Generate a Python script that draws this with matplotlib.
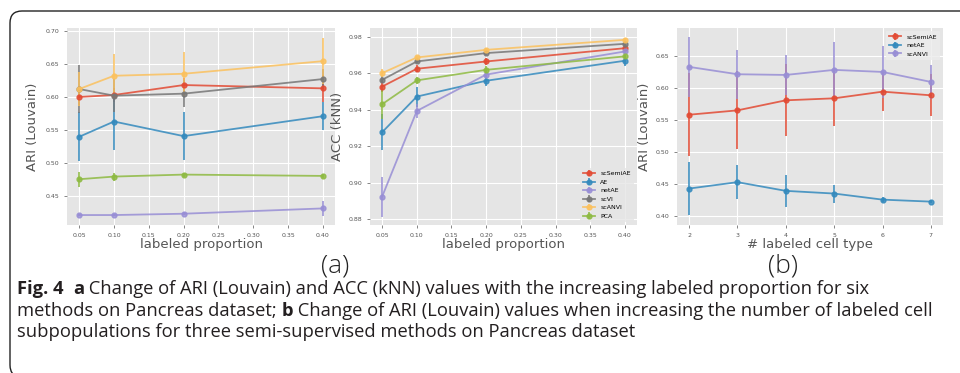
import matplotlib
matplotlib.use("Agg")
import matplotlib.pyplot as plt
from matplotlib.patches import FancyBboxPatch
import numpy as np

plt.style.use("ggplot")

# ---------------- data ----------------
prop = [0.05, 0.10, 0.20, 0.40]
methods_a = ["scSemiAE", "AE", "netAE", "scVI", "scANVI", "PCA"]
colors_a = ["#E24A33", "#348ABD", "#988ED5", "#777777", "#FBC15E", "#8EBA42"]

ari_scSemiAE = [0.600, 0.603, 0.618, 0.613]
ari_AE = [0.540, 0.563, 0.541, 0.571]
ari_netAE = [0.422, 0.422, 0.424, 0.432]
ari_scVI = [0.612, 0.602, 0.605, 0.627]
ari_scANVI = [0.612, 0.632, 0.635, 0.654]
ari_PCA = [0.476, 0.480, 0.483, 0.481]

ari_err_scSemiAE = [0.012, 0.010, 0.010, 0.020]
ari_err_AE = [0.037, 0.043, 0.036, 0.021]
ari_err_netAE = [0.002, 0.002, 0.002, 0.011]
ari_err_scVI = [0.036, 0.025, 0.020, 0.015]
ari_err_scANVI = [0.025, 0.033, 0.033, 0.035]
ari_err_PCA = [0.011, 0.006, 0.003, 0.003]

acc_scSemiAE = [0.9528, 0.9626, 0.9666, 0.9739]
acc_AE = [0.9277, 0.9473, 0.9560, 0.9670]
acc_netAE = [0.8923, 0.9394, 0.9594, 0.9721]
acc_scVI = [0.9565, 0.9666, 0.9712, 0.9763]
acc_scANVI = [0.9602, 0.9688, 0.9730, 0.9785]
acc_PCA = [0.9431, 0.9562, 0.9620, 0.9694]

acc_err_scSemiAE = [0.003, 0.002, 0.002, 0.001]
acc_err_AE = [0.010, 0.0055, 0.003, 0.003]
acc_err_netAE = [0.011, 0.004, 0.002, 0.001]
acc_err_scVI = [0.002, 0.001, 0.001, 0.001]
acc_err_scANVI = [0.002, 0.001, 0.001, 0.001]
acc_err_PCA = [0.008, 0.002, 0.002, 0.001]

ncell = [2, 3, 4, 5, 6, 7]
methods_b = ["scSemiAE", "netAE", "scANVI"]
colors_b = ["#E24A33", "#348ABD", "#988ED5"]
b_scSemiAE = [0.5576, 0.5644, 0.5801, 0.5832, 0.5936, 0.5879]
b_netAE = [0.4423, 0.4523, 0.4387, 0.4345, 0.4250, 0.4219]
b_scANVI = [0.6323, 0.6208, 0.6197, 0.6276, 0.6244, 0.6088]
b_err_scSemiAE = [0.065, 0.061, 0.056, 0.043, 0.030, 0.033]
b_err_netAE = [0.042, 0.027, 0.025, 0.014, 0.004, 0.002]
b_err_scANVI = [0.047, 0.038, 0.031, 0.043, 0.040, 0.027]

ticks_a = [0.05, 0.10, 0.15, 0.20, 0.25, 0.30, 0.35, 0.40]
ticks_a1_y = [0.45, 0.50, 0.55, 0.60, 0.65, 0.70]
ticks_a2_y = [0.88, 0.90, 0.92, 0.94, 0.96, 0.98]
ticks_b_y = [0.40, 0.45, 0.50, 0.55, 0.60, 0.65]

# ---------------- figure ----------------
W, H = 960, 373
fig = plt.figure(figsize=(W / 100, H / 100), dpi=100, facecolor="white")

def ax_at(x0, x1, y0, y1):
    return fig.add_axes([x0 / W, 1 - y1 / H, (x1 - x0) / W, (y1 - y0) / H])

ax1 = ax_at(67, 335, 28, 225)
ax2 = ax_at(370, 637, 28, 225)
ax3 = ax_at(677, 943, 28, 225)

tick_fs = 4.5
lab_fs = 9.5
lab_col = "#555555"

def style(ax):
    ax.tick_params(axis="both", labelsize=tick_fs, colors="#555555", length=2, width=0.5)
    for s in ax.spines.values():
        s.set_visible(False)
    ax.grid(True, color="white", linewidth=0.8)

ekw = dict(marker="o", markersize=3.5, linewidth=1.3, elinewidth=1.3, capsize=0, alpha=0.85)

a1 = [ari_scSemiAE, ari_AE, ari_netAE, ari_scVI, ari_scANVI, ari_PCA]
a1e = [ari_err_scSemiAE, ari_err_AE, ari_err_netAE, ari_err_scVI, ari_err_scANVI, ari_err_PCA]
for name, c, v, e in zip(methods_a, colors_a, a1, a1e):
    ax1.errorbar(prop, v, yerr=e, color=c, label=name, **ekw)
style(ax1)
ax1.set_xticks(ticks_a)
ax1.set_xticklabels(["%.2f" % t for t in ticks_a])
ax1.set_yticks(ticks_a1_y)
ax1.set_yticklabels(["%.2f" % t for t in ticks_a1_y])
ax1.set_xlim(0.0325, 0.4175)
ax1.set_ylim(0.407, 0.704)
ax1.set_xlabel("labeled proportion", fontsize=lab_fs, color=lab_col, labelpad=0)
ax1.set_ylabel("ARI (Louvain)", fontsize=lab_fs, color=lab_col, labelpad=5)

a2 = [acc_scSemiAE, acc_AE, acc_netAE, acc_scVI, acc_scANVI, acc_PCA]
a2e = [acc_err_scSemiAE, acc_err_AE, acc_err_netAE, acc_err_scVI, acc_err_scANVI, acc_err_PCA]
for name, c, v, e in zip(methods_a, colors_a, a2, a2e):
    ax2.errorbar(prop, v, yerr=e, color=c, label=name, **ekw)
style(ax2)
ax2.set_xticks(ticks_a)
ax2.set_xticklabels(["%.2f" % t for t in ticks_a])
ax2.set_yticks(ticks_a2_y)
ax2.set_yticklabels(["%.2f" % t for t in ticks_a2_y])
ax2.set_xlim(0.0325, 0.4175)
ax2.set_ylim(0.8767, 0.985)
ax2.set_xlabel("labeled proportion", fontsize=lab_fs, color=lab_col, labelpad=0)
ax2.set_ylabel("ACC (kNN)", fontsize=lab_fs, color=lab_col, labelpad=3)
ax2.legend(loc="lower right", fontsize=4.5, handlelength=2, labelspacing=0.5,
           frameon=True, facecolor="#E5E5E5", edgecolor="none", borderpad=0.5)

b = [b_scSemiAE, b_netAE, b_scANVI]
be = [b_err_scSemiAE, b_err_netAE, b_err_scANVI]
for name, c, v, e in zip(methods_b, colors_b, b, be):
    ax3.errorbar(ncell, v, yerr=e, color=c, label=name, **ekw)
style(ax3)
ax3.set_xticks(ncell)
ax3.set_yticks(ticks_b_y)
ax3.set_yticklabels(["%.2f" % t for t in ticks_b_y])
ax3.set_xlim(1.75, 7.25)
ax3.set_ylim(0.3854, 0.693)
ax3.set_xlabel("# labeled cell type", fontsize=lab_fs, color=lab_col, labelpad=0)
ax3.set_ylabel("ARI (Louvain)", fontsize=lab_fs, color=lab_col, labelpad=3)
ax3.legend(loc="upper right", fontsize=4.5, handlelength=2, labelspacing=0.5,
           frameon=True, facecolor="#ECECEC", edgecolor="none", borderpad=0.5)

cap_font = ["Open Sans", "DejaVu Sans"]

# panel letters
fig.text(335 / W, 1 - 266 / H, "(a)", fontsize=19, color="#222222", ha="center", va="center",
         family=cap_font, fontweight="light")
fig.text(783 / W, 1 - 266 / H, "(b)", fontsize=19, color="#222222", ha="center", va="center",
         family=cap_font, fontweight="light")

# border box (in inches)
box = FancyBboxPatch((0.10, (H - 377) / 100), 10.0, (377 - 11) / 100,
                     boxstyle="round,pad=0,rounding_size=0.12", transform=fig.dpi_scale_trans,
                     fill=False, edgecolor="#222222", linewidth=1.0)
fig.add_artist(box)

# caption with mixed bold
cap_fs = 13.2
lines = [
    [("Fig. 4", "bold"), ("  ", "normal"), ("a", "bold"),
     (" Change of ARI (Louvain) and ACC (kNN) values with the increasing labeled proportion for six", "normal")],
    [("methods on Pancreas dataset; ", "normal"), ("b", "bold"),
     (" Change of ARI (Louvain) values when increasing the number of labeled cell", "normal")],
    [("subpopulations for three semi-supervised methods on Pancreas dataset", "normal")],
]
line_y = [294, 316, 337]
renderer = fig.canvas.get_renderer()
for segs, yb in zip(lines, line_y):
    x = 17.0
    for txt, wgt in segs:
        t = fig.text(x / W, 1 - yb / H, txt, fontsize=cap_fs, fontweight=wgt, family=cap_font,
                     color="#231F20", ha="left", va="baseline")
        bb = t.get_window_extent(renderer=renderer)
        x += bb.width

fig.savefig("out.png", dpi=100, facecolor="white")
